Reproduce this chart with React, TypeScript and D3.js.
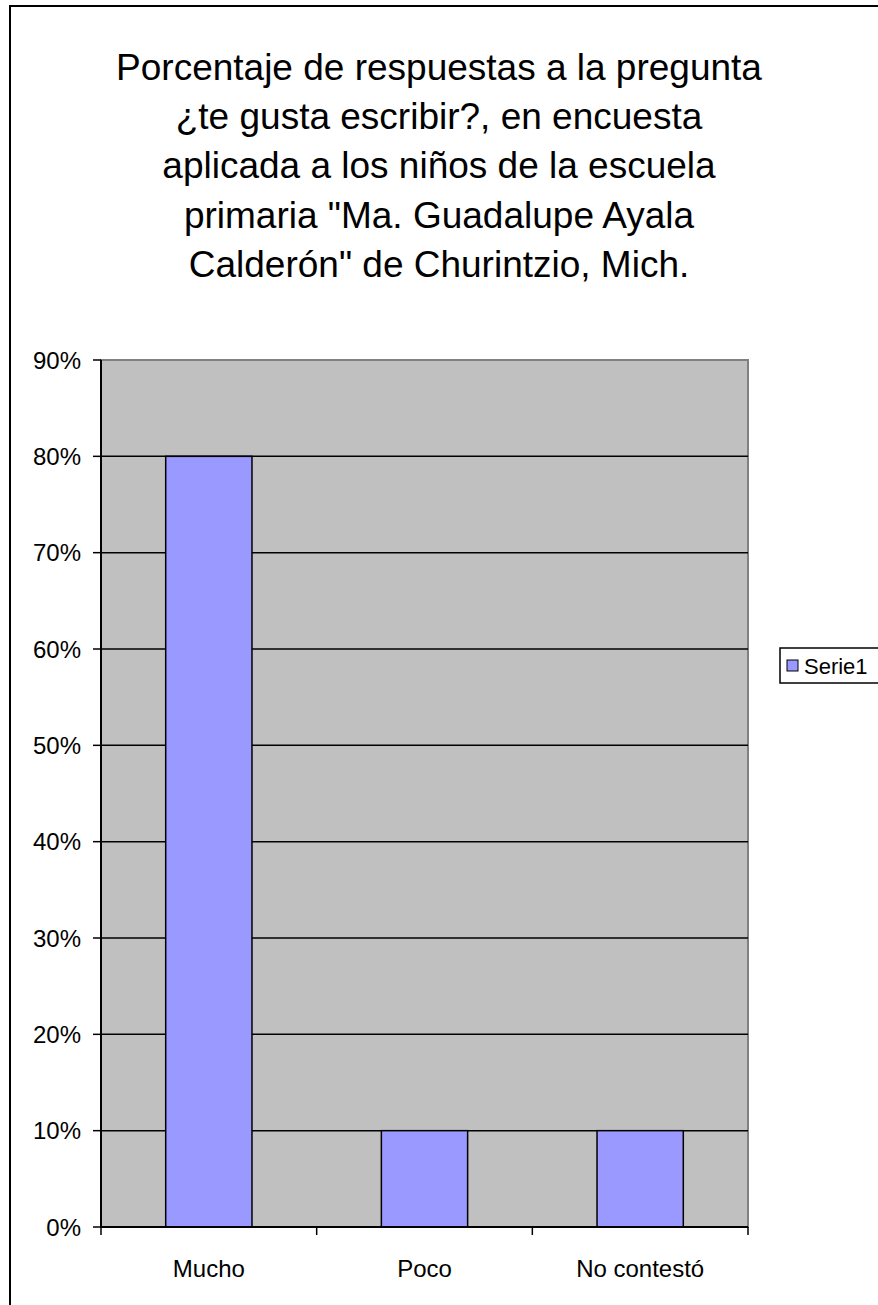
import React from "react";
import * as d3 from "d3";

const categories = ["Mucho", "Poco", "No contestó"];
const values = [0.8, 0.1, 0.1];
const yTicks = [0, 0.1, 0.2, 0.3, 0.4, 0.5, 0.6, 0.7, 0.8, 0.9];
const titleLines = [
  "Porcentaje de respuestas a la pregunta",
  "¿te gusta escribir?, en encuesta",
  "aplicada a los niños de la escuela",
  "primaria \"Ma. Guadalupe Ayala",
  "Calderón\" de Churintzio, Mich.",
];
const seriesName = "Serie1";

const W = 878;
const H = 1305;
const plot = { left: 101, right: 748, top: 360, bottom: 1227 };
const FONT = "Liberation Sans, Arial, sans-serif";

export default function App() {
  const x = d3
    .scaleBand<string>()
    .domain(categories)
    .range([plot.left, plot.right])
    .paddingInner(0)
    .paddingOuter(0);
  const y = d3.scaleLinear().domain([0, 0.9]).range([plot.bottom, plot.top]);
  const fmt = d3.format(".0%");
  const barW = x.bandwidth() * 0.4;
  const boundaries = [...categories.map((c) => x(c) as number), plot.right];

  return (
    <svg
      width={W}
      height={H}
      style={{ position: "absolute", left: 0, top: 0, display: "block", background: "#fff" }}
      fontFamily={FONT}
    >
      <rect x={0} y={0} width={W} height={H} fill="#fff" />
      <rect x={10} y={6} width={W + 20} height={H + 20} fill="none" stroke="#000" strokeWidth={2} />
      {titleLines.map((t, i) => (
        <text key={i} x={439} y={80 + i * 49.2} textAnchor="middle" fontSize={37} fill="#000">
          {t}
        </text>
      ))}
      <rect
        x={plot.left}
        y={plot.top}
        width={plot.right - plot.left}
        height={plot.bottom - plot.top}
        fill="#C0C0C0"
        stroke="#808080"
        strokeWidth={2}
      />
      {yTicks
        .filter((t) => t > 0 && t < 0.9)
        .map((t) => (
          <line key={t} x1={plot.left} x2={plot.right} y1={y(t)} y2={y(t)} stroke="#000" strokeWidth={1.5} />
        ))}
      {categories.map((c, i) => {
        const cx = (x(c) as number) + x.bandwidth() / 2;
        return (
          <rect
            key={c}
            x={cx - barW / 2}
            y={y(values[i])}
            width={barW}
            height={y(0) - y(values[i])}
            fill="#9999FF"
            stroke="#000"
            strokeWidth={1.5}
          />
        );
      })}
      <line x1={plot.left} x2={plot.left} y1={plot.top} y2={plot.bottom} stroke="#000" strokeWidth={2} />
      <line x1={plot.left} x2={plot.right} y1={plot.bottom} y2={plot.bottom} stroke="#000" strokeWidth={2} />
      {yTicks.map((t) => (
        <g key={t}>
          <line x1={plot.left - 8} x2={plot.left} y1={y(t)} y2={y(t)} stroke="#000" strokeWidth={1.5} />
          <text x={plot.left - 20} y={y(t) + 8.5} textAnchor="end" fontSize={24} fill="#000">
            {fmt(t)}
          </text>
        </g>
      ))}
      {boundaries.map((b, i) => (
        <line key={i} x1={b} x2={b} y1={plot.bottom} y2={plot.bottom + 8} stroke="#000" strokeWidth={1.5} />
      ))}
      {categories.map((c) => (
        <text
          key={c}
          x={(x(c) as number) + x.bandwidth() / 2}
          y={1277}
          textAnchor="middle"
          fontSize={24}
          fill="#000"
        >
          {c}
        </text>
      ))}
      <g>
        <rect x={780} y={648} width={100} height={35} fill="#fff" stroke="#000" strokeWidth={1.5} />
        <rect x={787} y={660} width={11} height={11} fill="#9999FF" stroke="#000" strokeWidth={1} />
        <text x={804} y={673.5} fontSize={22} fill="#000">
          {seriesName}
        </text>
      </g>
    </svg>
  );
}
